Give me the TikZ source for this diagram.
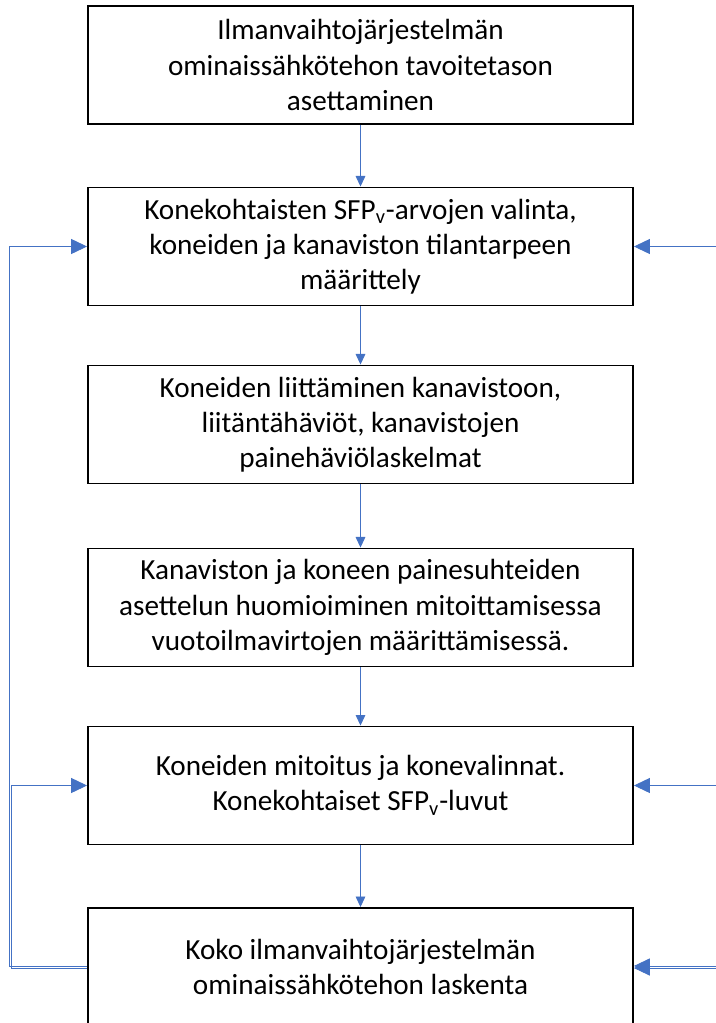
\documentclass[tikz,border=0pt]{standalone}
\usepackage{fontspec}
\setmainfont{Carlito}
\definecolor{flowblue}{HTML}{4472C4}
\usetikzlibrary{positioning, arrows.meta}

\begin{document}
\begin{tikzpicture}[
  stage/.style={draw=black, line width=1.1pt, fill=white,
                minimum width=10.9cm, minimum height=2.36cm, align=center,
                font=\fontsize{16.6}{20}\selectfont, inner sep=3pt},
  flow/.style={draw=flowblue, line width=0.5pt,
               -{Triangle[length=6pt, width=5.5pt, fill=flowblue]}},
  feed/.style={draw=flowblue, line width=0.5pt,
               -{Triangle[length=9pt, width=8.5pt, fill=flowblue]}},
]
\clip (0,0) rectangle (14.32,-20.46);
\useasboundingbox (0,0) rectangle (14.32,-20.46);

\node[stage] (b1) at (7.21,-1.30) {
  Ilmanvaihtojärjestelmän\\ominaissähkötehon tavoitetason\\asettaminen
};
\node[stage] (b2) at (7.21,-4.93) {
  Konekohtaisten SFP\textsubscript{v}-arvojen valinta,\\koneiden ja kanaviston tilantarpeen\\määrittely
};
\node[stage] (b3) at (7.21,-8.49) {
  Koneiden liittäminen kanavistoon,\\liitäntähäviöt, kanavistojen\\painehäviölaskelmat
};
\node[stage] (b4) at (7.21,-12.15) {
  Kanaviston ja koneen painesuhteiden\\asettelun huomioiminen mitoittamisessa\\vuotoilmavirtojen määrittämisessä.
};
\node[stage] (b5) at (7.21,-15.71) {
  Koneiden mitoitus ja konevalinnat.\\Konekohtaiset SFP\textsubscript{v}-luvut
};
\node[stage] (b6) at (7.21,-19.34) {
  Koko ilmanvaihtojärjestelmän\\ominaissähkötehon laskenta
};

% main flow
\draw[flow] (b1) -- (b2);
\draw[flow] (b2) -- (b3);
\draw[flow] (b3) -- (b4);
\draw[flow] (b4) -- (b5);
\draw[flow] (b5) -- (b6);

% feedback on the left
\draw[feed] ([yshift=0.6pt]b6.west) -- ++(-1.56,0) |- (b2.west);
\draw[feed] ([yshift=-0.6pt]b6.west) -- ++(-1.52,0) |- (b5.west);

% inputs from the right
\path (b2.east) ++(2,0) coordinate (rin2);
\path (b5.east) ++(2,0) coordinate (rin5);
\path (b6.east) ++(2,0) coordinate (rin6);
\draw[feed] (rin2) -- (b2.east);
\draw[feed] (rin5) -- (b5.east);
\draw[feed] ([yshift=0.6pt]rin6) -- ([yshift=0.6pt]b6.east);
\draw[feed] ([yshift=-0.6pt]rin6) -- ([yshift=-0.6pt]b6.east);
\end{tikzpicture}
\end{document}
